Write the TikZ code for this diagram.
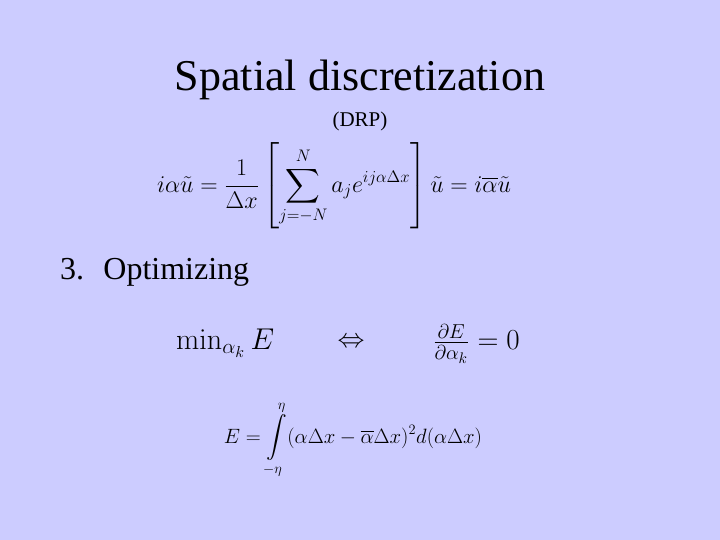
\documentclass[tikz,border=0pt]{standalone}
\usepackage[no-math]{fontspec}
\usepackage{amsmath}
\usepackage{graphicx}
\setmainfont{Liberation Serif}
\definecolor{bg}{RGB}{204,204,255}
\begin{document}
\begin{tikzpicture}[x=1pt,y=-1pt,every node/.style={inner sep=0pt,anchor=center}]
\fill[bg] (0,0) rectangle (720,540);
\useasboundingbox (0,0) rectangle (720,540);
\node (title) at (360,80) {\fontsize{44}{50}\selectfont Spatial discretization};
\node (drp) at (360,121) {\fontsize{21}{24}\selectfont (DRP)};
\node (eq1) at (334,186) {\scalebox{1.16}{\fontsize{20}{24}\selectfont $\displaystyle i\alpha\tilde u=\frac{1}{\Delta x}\left[\sum_{j=-N}^{N}a_je^{ij\alpha\Delta x}\right]\tilde u=i\overline{\alpha}\tilde u$}};
\node[anchor=west] (opt) at (60,272) {\fontsize{32}{36}\selectfont 3.\hspace{0.6em}Optimizing};
\node[anchor=west] (min) at (176,343) {\scalebox{1.45}{\fontsize{22}{26}\selectfont $\min_{\alpha_k}E$}};
\node (iff) at (351,343) {\scalebox{1.3}{\fontsize{22}{26}\selectfont $\Leftrightarrow$}};
\node[anchor=east] (deriv) at (520,344) {\scalebox{1.4}{\fontsize{22}{26}\selectfont $\frac{\partial E}{\partial\alpha_k}=0$}};
\node (eq2) at (353,440) {\scalebox{1.2}{\fontsize{17}{20}\selectfont $\displaystyle E=\int\limits_{-\eta}^{\eta}(\alpha\Delta x-\overline{\alpha}\Delta x)^2d(\alpha\Delta x)$}};
\end{tikzpicture}
\end{document}
